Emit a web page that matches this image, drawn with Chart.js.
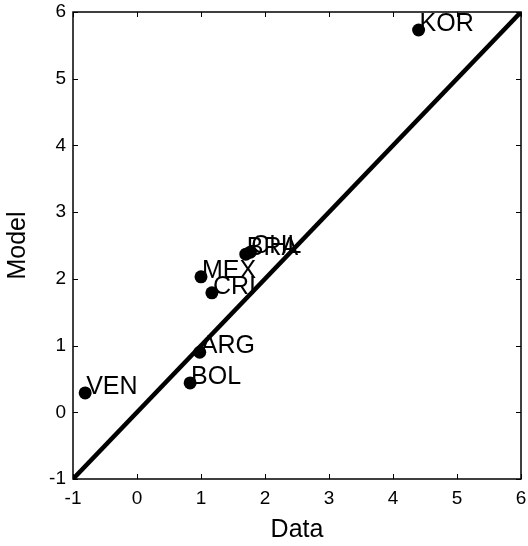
<!DOCTYPE html>
<html>
<head>
<meta charset="utf-8">
<script src="https://cdn.jsdelivr.net/npm/chart.js@4.4.1/dist/chart.umd.min.js"></script>
<style>
  html, body { margin: 0; padding: 0; background: #fff; }
  #wrap { width: 528px; height: 546px; }
</style>
</head>
<body>
<div id="wrap"><canvas id="c" width="528" height="546"></canvas></div>
<script>
// ---- data ----
const countries = ['KOR', 'BRA', 'CHL', 'MEX', 'CRI', 'ARG', 'BOL', 'VEN'];
const dataX     = [4.40, 1.70, 1.77, 1.00, 1.17, 0.98, 0.83, -0.81];
const modelY    = [5.73, 2.37, 2.40, 2.03, 1.79, 0.90, 0.44, 0.29];
const axisMin = -1;
const axisMax = 6;
const tickValues = [-1, 0, 1, 2, 3, 4, 5, 6];
const diagonal = [axisMin, axisMax];
const xTitle = 'Data';
const yTitle = 'Model';

const FONT = '"Liberation Sans", Arial, Helvetica, sans-serif';

const points = dataX.map((x, i) => ({ x: x, y: modelY[i] }));
const diagPts = diagonal.map(v => ({ x: v, y: v }));

const boxAndTicks = {
  id: 'boxAndTicks',
  afterDraw(chart) {
    const { ctx, chartArea: a, scales } = chart;
    ctx.save();
    ctx.strokeStyle = '#000';
    ctx.lineWidth = 1.5;
    ctx.strokeRect(a.left, a.top, a.right - a.left, a.bottom - a.top);
    ctx.lineWidth = 1;
    const len = 5;
    ctx.beginPath();
    tickValues.forEach(v => {
      const px = Math.round(scales.x.getPixelForValue(v)) + 0.5;
      ctx.moveTo(px, a.bottom); ctx.lineTo(px, a.bottom - len);
      ctx.moveTo(px, a.top); ctx.lineTo(px, a.top + len);
      const py = Math.round(scales.y.getPixelForValue(v)) + 0.5;
      ctx.moveTo(a.left, py); ctx.lineTo(a.left + len, py);
      ctx.moveTo(a.right, py); ctx.lineTo(a.right - len, py);
    });
    ctx.stroke();
    ctx.restore();
  }
};

const pointLabels = {
  id: 'pointLabels',
  afterDatasetsDraw(chart) {
    const { ctx } = chart;
    const meta = chart.getDatasetMeta(0);
    ctx.save();
    ctx.fillStyle = '#000';
    ctx.font = '25px ' + FONT;
    ctx.textAlign = 'left';
    ctx.textBaseline = 'alphabetic';
    meta.data.forEach((el, i) => {
      ctx.fillText(countries[i], el.x + 1, el.y + 1);
    });
    ctx.restore();
  }
};

new Chart(document.getElementById('c'), {
  type: 'scatter',
  data: {
    datasets: [
      {
        label: 'countries',
        data: points,
        backgroundColor: '#000',
        borderColor: '#000',
        pointRadius: 6.5,
        pointHoverRadius: 6.5,
        borderWidth: 0,
        order: 1
      },
      {
        label: '45 degree',
        data: diagPts,
        showLine: true,
        borderColor: '#000',
        borderWidth: 4.5,
        pointRadius: 0,
        fill: false,
        order: 0
      }
    ]
  },
  options: {
    responsive: false,
    animation: false,
    events: [],
    layout: { padding: { left: 0, top: 12, right: 7, bottom: 0 } },
    plugins: { legend: { display: false }, tooltip: { enabled: false } },
    scales: {
      x: {
        type: 'linear',
        min: axisMin, max: axisMax,
        afterFit(s) { s.height = 67; s.paddingLeft = 0; s.paddingRight = 0; },
        afterBuildTicks(s) { s.ticks = tickValues.map(v => ({ value: v })); },
        grid: { display: false, drawTicks: false },
        border: { display: false },
        ticks: { color: '#000', padding: 8, font: { family: FONT, size: 19 }, maxRotation: 0, autoSkip: false },
        title: { display: true, text: xTitle, color: '#000', font: { family: FONT, size: 25, lineHeight: 1 }, padding: { top: 0, bottom: 3 } }
      },
      y: {
        type: 'linear',
        min: axisMin, max: axisMax,
        afterFit(s) { s.width = 73; s.paddingTop = 0; s.paddingBottom = 0; },
        afterBuildTicks(s) { s.ticks = tickValues.map(v => ({ value: v })); },
        grid: { display: false, drawTicks: false },
        border: { display: false },
        ticks: { color: '#000', padding: 7, font: { family: FONT, size: 19 }, autoSkip: false },
        title: { display: true, text: yTitle, color: '#000', font: { family: FONT, size: 25, lineHeight: 1 }, padding: { top: 6, bottom: 0 } }
      }
    }
  },
  plugins: [pointLabels, boxAndTicks]
});
</script>
</body>
</html>
